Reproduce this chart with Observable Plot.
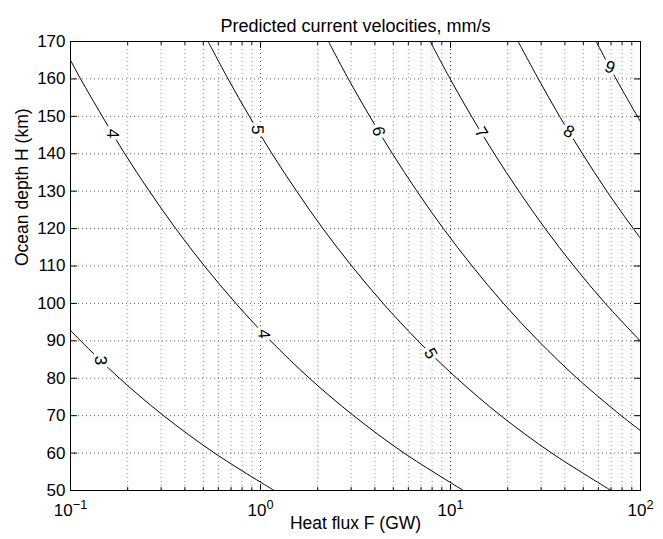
<!DOCTYPE html>
<html><head><meta charset="utf-8">
<script src="https://cdn.jsdelivr.net/npm/d3@7"></script>
<script src="https://cdn.jsdelivr.net/npm/@observablehq/plot@0.6"></script>
<style>
html,body{margin:0;padding:0;background:#fff;}
</style>
</head><body><div id="chart"></div>
<script>
// ---- data ----
const title = "Predicted current velocities, mm/s";
const xLabel = "Heat flux F (GW)";
const yLabel = "Ocean depth H (km)";

const levels = [3, 4, 5, 6, 7, 8, 9];
// contour lines as [F (GW), H (km)] pairs
const line3 = [[0.1,92.8],[0.113,90],[0.181,80],[0.309,70],[0.573,60],[1.18,50]];
const line4 = [[0.1,165],[0.113,160],[0.147,150],[0.193,140],[0.260,130],[0.358,120],[0.507,110],[0.742,100],[1.13,90],[1.81,80],[3.09,70],[5.70,60],[11.7,50]];
const line5 = [[0.530,170],[0.675,160],[0.874,150],[1.15,140],[1.55,130],[2.13,120],[3.02,110],[4.42,100],[6.74,90],[10.8,80],[18.4,70],[34.1,60],[70.0,50]];
const line6 = [[2.28,170],[2.90,160],[3.76,150],[4.95,140],[6.66,130],[9.17,120],[13.0,110],[19.0,100],[29.0,90],[46.4,80],[79.2,70],[100,66.0]];
const line7 = [[7.82,170],[9.96,160],[12.9,150],[17.0,140],[22.9,130],[31.5,120],[44.6,110],[65.3,100],[100,89.9]];
const line8 = [[22.7,170],[29.0,160],[37.5,150],[49.5,140],[66.5,130],[91.6,120],[100,117.4]];
const line9 = [[58.4,170],[74.4,160],[96.3,150],[100,148.6]];
const contourLines = [line3, line4, line5, line6, line7, line8, line9];

// inline contour labels
const labelText  = ["3", "4", "4", "5", "5", "6", "7", "8", "9"];
const labelF     = [0.144, 0.166, 1.04, 0.964, 7.85, 4.18, 14.5, 41.9, 68.9];
const labelH     = [84.8, 145.4, 91.9, 146.4, 86.6, 146.0, 145.7, 145.9, 163.1];
const labelAngle = [89, 90, 86, 88, 61, 80, 59, 30, 21];

// axis ticks
const xMajor = [0.1, 1, 10, 100];
const xExp = ["−1", "0", "1", "2"];
const xMinor = [0.2,0.3,0.4,0.5,0.6,0.7,0.8,0.9, 2,3,4,5,6,7,8,9, 20,30,40,50,60,70,80,90];
const yTicks = [50, 60, 70, 80, 90, 100, 110, 120, 130, 140, 150, 160, 170];

// ---- tables built from the arrays ----
const contourRows = levels.flatMap((lv, i) => contourLines[i].map(([F, H]) => ({level: lv, F, H})));
const labels = labelText.map((t, i) => ({text: t, F: labelF[i], H: labelH[i], angle: labelAngle[i]}));

const font = "'Liberation Sans', Arial, Helvetica, sans-serif";
const tickShape = {draw(ctx, l) { ctx.moveTo(0, 0); ctx.lineTo(0, -l); }};
const tickMarks = (data, ch, anchor, rot, len) =>
  Plot.vector(data, {[ch]: d => d, frameAnchor: anchor, rotate: rot, length: len, anchor: "start",
    shape: tickShape, stroke: "black", strokeWidth: 1});

const chart = Plot.plot({
  width: 663, height: 539,
  marginLeft: 70, marginRight: 23, marginTop: 41, marginBottom: 49,
  style: {fontFamily: font, fontSize: "17px", background: "white", color: "black", overflow: "visible"},
  x: {type: "log", domain: [0.1, 100]},
  y: {domain: [50, 170]},
  marks: [
    Plot.ruleX(xMinor, {stroke: "#000", strokeOpacity: 0.4, strokeDasharray: "1,3"}),
    Plot.ruleX([1, 10], {stroke: "#000", strokeOpacity: 0.7, strokeDasharray: "1,3"}),
    Plot.ruleY(yTicks.slice(1, -1), {stroke: "#000", strokeOpacity: 0.6, strokeDasharray: "1,3"}),
    Plot.line(contourRows, {x: "F", y: "H", z: "level", curve: "catmull-rom", stroke: "black", strokeWidth: 1, clip: true}),
    Plot.text(labels, {x: "F", y: "H", text: "text", rotate: "angle", fill: "black",
      stroke: "white", strokeWidth: 7, paintOrder: "stroke", fontSize: 17}),
    Plot.frame({stroke: "black", strokeWidth: 1}),
    tickMarks(xMajor, "x", "bottom", 0, 6),
    tickMarks(xMinor, "x", "bottom", 0, 3),
    tickMarks(xMajor, "x", "top", 180, 6),
    tickMarks(xMinor, "x", "top", 180, 3),
    tickMarks(yTicks, "y", "left", 90, 6),
    tickMarks(yTicks, "y", "right", -90, 6),
    Plot.axisX(xMajor, {anchor: "bottom", tickSize: 0, tickPadding: 13, label: null,
      tickFormat: d => "10^" + xExp[xMajor.indexOf(d)], fontSize: 17}),
    Plot.axisY(yTicks, {anchor: "left", tickSize: 0, tickPadding: 5, label: null, fontSize: 17}),
    Plot.text([xLabel], {text: d => d, frameAnchor: "bottom", dy: 38, fontSize: 17.5}),
    Plot.text([yLabel], {text: d => d, frameAnchor: "left", dx: -48, rotate: -90, fontSize: 17.5}),
    Plot.text([title], {text: d => d, frameAnchor: "top", dy: -22, fontSize: 18})
  ]
});

// render x tick labels as 10 with superscript exponent
chart.querySelectorAll('g[aria-label="x-axis tick label"] text').forEach(t => {
  const s = t.textContent;
  const [base, exp] = s.split("^");
  t.textContent = "";
  const b = document.createElementNS("http://www.w3.org/2000/svg", "tspan");
  b.textContent = base;
  const e = document.createElementNS("http://www.w3.org/2000/svg", "tspan");
  e.setAttribute("dy", "-0.55em");
  e.setAttribute("font-size", "0.75em");
  e.textContent = exp;
  t.appendChild(b);
  t.appendChild(e);
});

document.getElementById("chart").appendChild(chart);
</script>
</body></html>
